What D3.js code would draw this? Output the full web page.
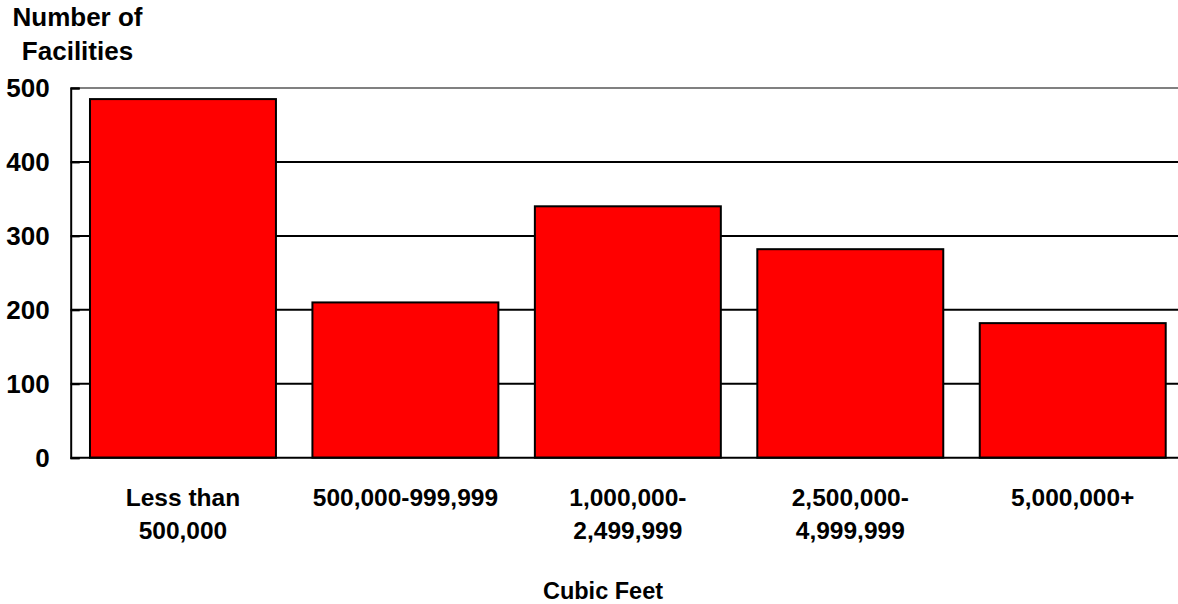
<!DOCTYPE html>
<html>
<head>
<meta charset="utf-8">
<script src="https://cdn.jsdelivr.net/npm/d3@7"></script>
<style>
  body { margin: 0; background: #fff; }
  svg text { font-family: "Liberation Sans", Arial, sans-serif; font-weight: bold; fill: #000; }
  .ytitle, .ytick text { font-size: 26px; }
  .xlab { font-size: 24.5px; }
  .xtitle { font-size: 23.5px; }
</style>
</head>
<body>
<div id="chart"></div>
<script>
// data
const categories = [
  ["Less than", "500,000"],
  ["500,000-999,999"],
  ["1,000,000-", "2,499,999"],
  ["2,500,000-", "4,999,999"],
  ["5,000,000+"]
];
const facilities = [485, 210, 340, 282, 182];
const yTicks = [0, 100, 200, 300, 400, 500];

const svgWidth = 1178;
const svgHeight = 604;
const margin = { top: 88, right: 0, bottom: 146.3, left: 70.7 };
const width = svgWidth - margin.left - margin.right;
const height = svgHeight - margin.top - margin.bottom;

const svg = d3
  .select("#chart")
  .append("svg")
  .attr("width", svgWidth)
  .attr("height", svgHeight);

const g = svg
  .append("g")
  .attr("transform", `translate(${margin.left}, ${margin.top})`);

const idx = categories.map((d, i) => i);

// plot area runs a little past the right edge of the picture
const xScale = d3
  .scaleBand()
  .domain(idx)
  .range([0, width + 7])
  .paddingInner(0.164)
  .paddingOuter(0.0867);

const yScale = d3
  .scaleLinear()
  .domain([0, 500])
  .range([height, 0]);

// gridlines (top one is grey)
g.selectAll("line.grid")
  .data(yTicks.filter((d) => d > 0))
  .enter()
  .append("line")
  .attr("class", "grid")
  .attr("x1", 0)
  .attr("x2", width)
  .attr("y1", (d) => yScale(d))
  .attr("y2", (d) => yScale(d))
  .attr("stroke", (d) => (d === 500 ? "#808080" : "#000"))
  .attr("stroke-width", 2);

// bars
g.selectAll("rect")
  .data(facilities)
  .enter()
  .append("rect")
  .attr("x", (d, i) => xScale(i))
  .attr("y", (d) => yScale(d))
  .attr("width", xScale.bandwidth())
  .attr("height", (d) => height - yScale(d))
  .attr("fill", "#FF0000")
  .attr("stroke", "#000")
  .attr("stroke-width", 2);

// y axis
const yAxis = g
  .append("g")
  .attr("class", "ytick")
  .call(d3.axisLeft(yScale).tickValues(yTicks).tickSize(-9).tickPadding(21));
yAxis.attr("font-size", null).attr("font-family", null);
yAxis.select(".domain").attr("stroke", "#000").attr("stroke-width", 2);
yAxis.selectAll(".tick line").attr("stroke", "#000").attr("stroke-width", 2);

// x axis baseline
g.append("line")
  .attr("x1", 0)
  .attr("x2", width)
  .attr("y1", height)
  .attr("y2", height)
  .attr("stroke", "#000")
  .attr("stroke-width", 2);

// x labels
const xLabels = g
  .selectAll("text.xlab")
  .data(categories)
  .enter()
  .append("text")
  .attr("class", "xlab")
  .attr("text-anchor", "middle")
  .attr("transform", (d, i) => `translate(${xScale(i) + xScale.bandwidth() / 2}, ${height + 48})`);
xLabels
  .selectAll("tspan")
  .data((d) => d)
  .enter()
  .append("tspan")
  .attr("x", 0)
  .attr("y", (d, i) => i * 33)
  .text((d) => d);

// axis titles
svg.append("text")
  .attr("class", "ytitle")
  .attr("text-anchor", "middle")
  .attr("x", 77.5)
  .attr("y", 26)
  .text("Number of");
svg.append("text")
  .attr("class", "ytitle")
  .attr("text-anchor", "middle")
  .attr("x", 77.5)
  .attr("y", 60)
  .text("Facilities");

svg.append("text")
  .attr("class", "xtitle")
  .attr("text-anchor", "middle")
  .attr("x", 603)
  .attr("y", 599)
  .text("Cubic Feet");
</script>
</body>
</html>
